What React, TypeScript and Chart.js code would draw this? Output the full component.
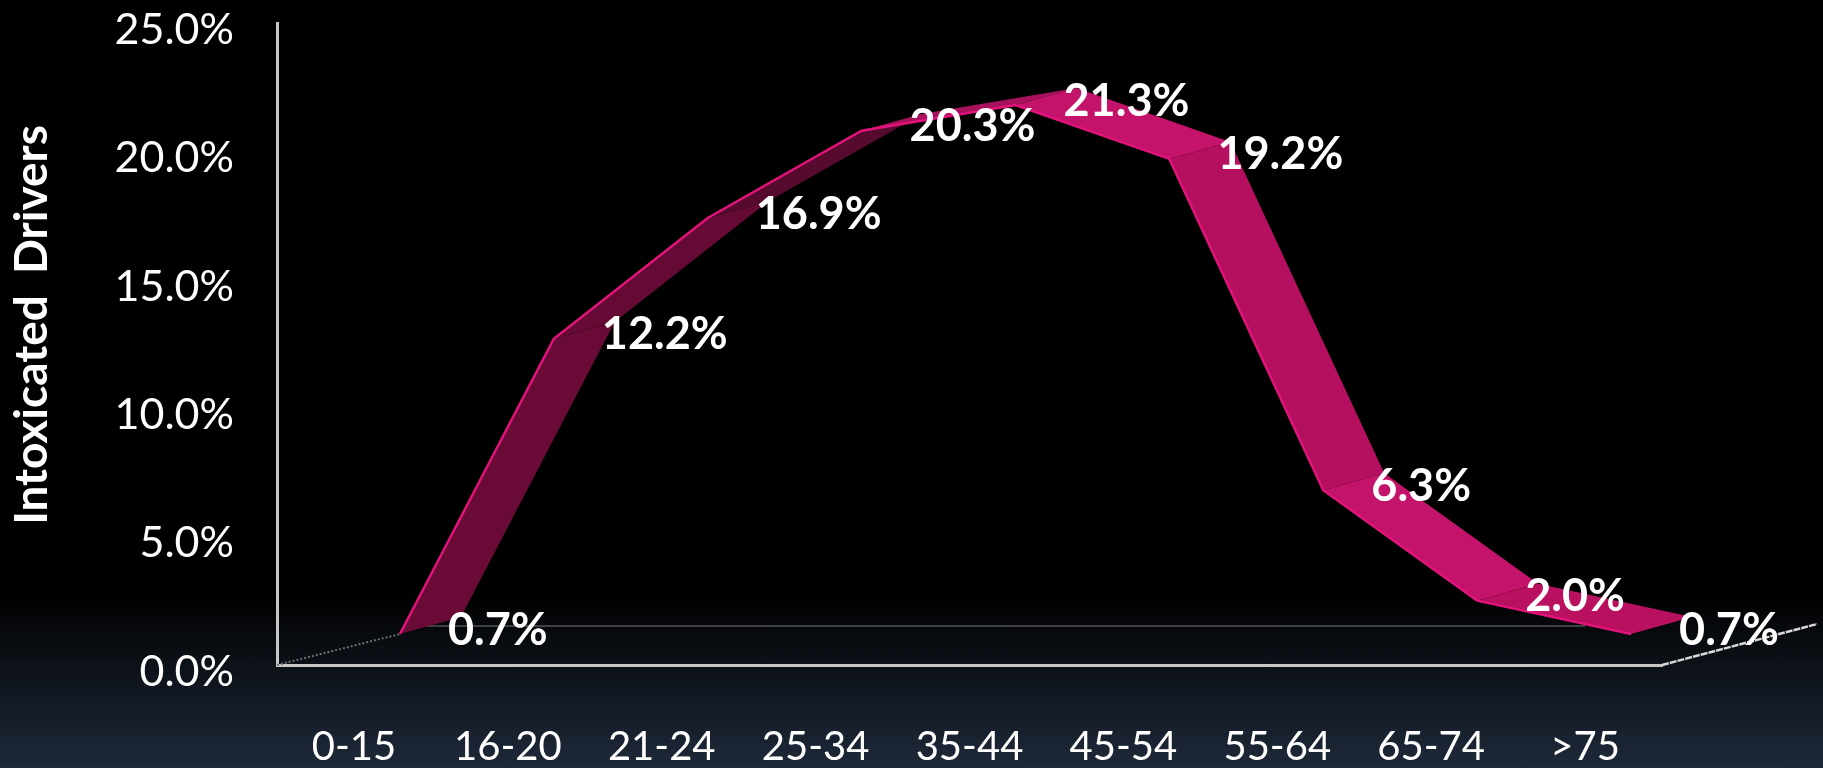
import React, { useEffect, useRef } from "react";
import { Chart, registerables } from "chart.js";

Chart.register(...registerables);

const ageBands = ["0-15", "16-20", "21-24", "25-34", "35-44", "45-54", "55-64", "65-74", ">75"];
const intoxicatedShare = [0.7, 12.2, 16.9, 20.3, 21.3, 19.2, 6.3, 2.0, 0.7];
const faceColors = ["#6a0a37", "#650a34", "#560a2d", "#a8125c", "#c4136a", "#b5105f", "#c4136a", "#b9115f"];

const FONT = "Lato, 'Open Sans', sans-serif";
const INK = "#ffffff";
const FRONT_SHIFT = { x: 46, y: -13 };
const RIBBON_DEPTH = { x: 61, y: -17 };
const FLOOR_DEPTH = { x: 155, y: -41 };

const ribbonPlugin = {
  id: "ribbon",
  beforeDatasetsDraw(chart: any) {
    const { ctx, chartArea } = chart;
    const { left, right, bottom } = chartArea;
    const points = chart.getDatasetMeta(0).data;
    ctx.save();

    // Floor of the 3D box: back edge and the two receding sides.
    ctx.strokeStyle = "#3f4144";
    ctx.lineWidth = 2;
    ctx.beginPath();
    ctx.moveTo(points[0].x + RIBBON_DEPTH.x, bottom + FLOOR_DEPTH.y * 0.95);
    ctx.lineTo(points[8].x, bottom + FLOOR_DEPTH.y * 0.95);
    ctx.stroke();

    ctx.setLineDash([2, 2]);
    ctx.strokeStyle = "#6e6e6e";
    ctx.beginPath();
    ctx.moveTo(left, bottom);
    ctx.lineTo(points[0].x + FRONT_SHIFT.x, points[0].y + FRONT_SHIFT.y);
    ctx.stroke();

    ctx.setLineDash([7, 1]);
    ctx.lineWidth = 2.5;
    ctx.strokeStyle = "#d8d8d8";
    ctx.beginPath();
    ctx.moveTo(right, bottom);
    ctx.lineTo(right + FLOOR_DEPTH.x, bottom + FLOOR_DEPTH.y);
    ctx.stroke();
    ctx.setLineDash([]);

    // One parallelogram per segment between neighbouring age bands.
    for (let i = 0; i < points.length - 1; i++) {
      const ax = points[i].x + FRONT_SHIFT.x;
      const ay = points[i].y + FRONT_SHIFT.y;
      const bx = points[i + 1].x + FRONT_SHIFT.x;
      const by = points[i + 1].y + FRONT_SHIFT.y;
      ctx.fillStyle = faceColors[i];
      ctx.beginPath();
      ctx.moveTo(ax, ay);
      ctx.lineTo(bx, by);
      ctx.lineTo(bx + RIBBON_DEPTH.x, by + RIBBON_DEPTH.y);
      ctx.lineTo(ax + RIBBON_DEPTH.x, ay + RIBBON_DEPTH.y);
      ctx.closePath();
      ctx.fill();
    }
    ctx.restore();
  },
  beforeDatasetDraw(chart: any) {
    chart.ctx.save();
    chart.ctx.translate(FRONT_SHIFT.x, FRONT_SHIFT.y);
  },
  afterDatasetDraw(chart: any) {
    chart.ctx.restore();
  },
  afterDatasetsDraw(chart: any) {
    const { ctx } = chart;
    const points = chart.getDatasetMeta(0).data;
    ctx.save();

    // Value labels sit just right of each front-edge vertex.
    ctx.fillStyle = INK;
    ctx.font = `700 45px ${FONT}`;
    ctx.textAlign = "left";
    ctx.textBaseline = "middle";
    intoxicatedShare.forEach((value, i) => {
      ctx.fillText(
        `${value.toFixed(1)}%`,
        points[i].x + FRONT_SHIFT.x + 48,
        points[i].y + FRONT_SHIFT.y - 4
      );
    });

    // Vertical axis caption.
    ctx.translate(32, 325);
    ctx.rotate(-Math.PI / 2);
    ctx.textAlign = "center";
    ctx.font = `700 46px ${FONT}`;
    ctx.wordSpacing = "10px";
    ctx.fillText("Intoxicated Drivers", 0, 0);
    ctx.restore();
  },
};

export default function App() {
  const canvasRef = useRef<HTMLCanvasElement>(null);

  useEffect(() => {
    const chart = new Chart(canvasRef.current!, {
      type: "line",
      data: {
        labels: ageBands,
        datasets: [
          {
            label: "Intoxicated Drivers",
            data: intoxicatedShare,
            borderColor: "#e2137a",
            borderWidth: 2.5,
            pointRadius: 0,
            tension: 0,
            clip: false,
          },
        ],
      },
      plugins: [ribbonPlugin],
      options: {
        animation: false,
        responsive: false,
        layout: { padding: { left: 0, right: 161, top: 23, bottom: 0 } },
        plugins: { legend: { display: false }, tooltip: { enabled: false } },
        scales: {
          x: {
            offset: true,
            afterFit: (scale: any) => {
              scale.height = 103;
              scale.paddingLeft = 0;
              scale.paddingRight = 0;
            },
            grid: { display: false },
            border: { color: "#c6c6c6", width: 3 },
            ticks: {
              color: INK,
              font: { family: FONT, size: 40, weight: "400" },
              padding: 50,
              maxRotation: 0,
              autoSkip: false,
            },
          },
          y: {
            min: 0,
            max: 25,
            afterFit: (scale: any) => {
              scale.width = 277;
              scale.paddingTop = 0;
              scale.paddingBottom = 0;
            },
            grid: { display: false },
            border: { color: "#c6c6c6", width: 3 },
            ticks: {
              stepSize: 5,
              color: INK,
              font: { family: FONT, size: 43, weight: "400" },
              padding: 35,
              labelOffset: 7,
              callback: (value: any) => `${Number(value).toFixed(1)}%`,
            },
          },
        },
      },
    } as any);
    return () => chart.destroy();
  }, []);

  return (
    <div
      style={{
        position: "fixed",
        left: 0,
        top: 0,
        width: 1823,
        height: 768,
        background: "linear-gradient(#000000 0%, #000000 77%, #1e2939 100%)",
      }}
    >
      <canvas ref={canvasRef} width={1823} height={768} style={{ display: "block" }} />
    </div>
  );
}
